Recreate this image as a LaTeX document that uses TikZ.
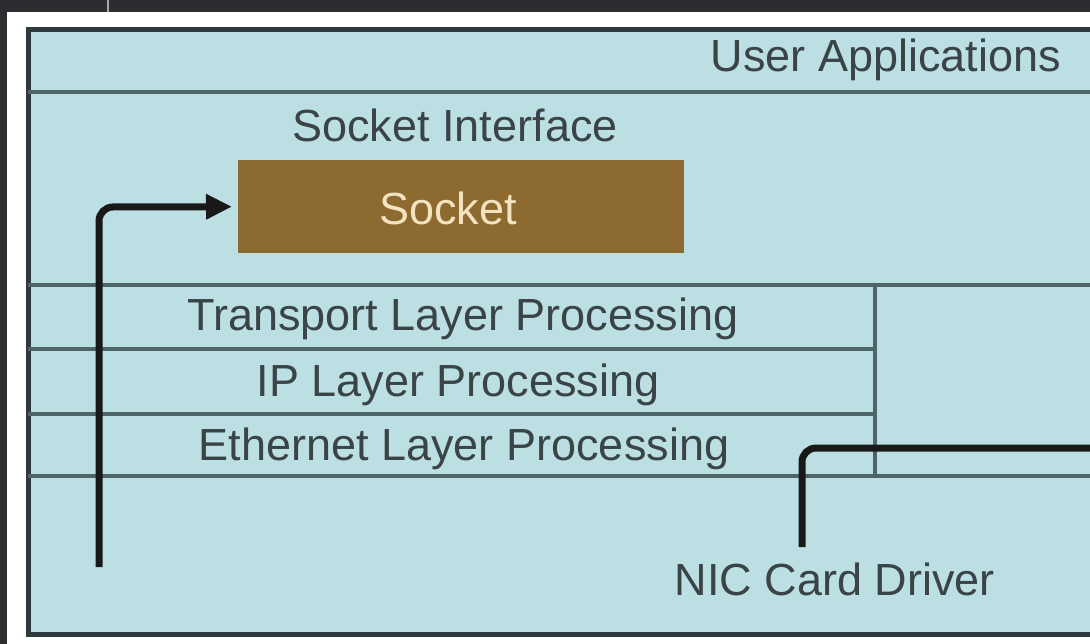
\documentclass[tikz,border=0pt]{standalone}
\usepackage{fontspec}
\setmainfont{Liberation Sans}
\usetikzlibrary{arrows.meta}
\definecolor{panel}{HTML}{BCDFE4}
\definecolor{rule}{HTML}{4E6468}
\definecolor{frame}{HTML}{2F3A3C}
\definecolor{txt}{HTML}{3A4447}
\definecolor{sockfill}{HTML}{8D6A2F}
\definecolor{socktxt}{HTML}{F3E3C0}
\definecolor{topbar}{HTML}{2D2D31}
\tikzset{
  lbl/.style={anchor=base, text=txt, font=\fontsize{45}{54}\selectfont, inner sep=0pt},
  layerline/.style={draw=rule, line width=3.5pt},
  flow/.style={draw=black!90, line width=7pt, rounded corners=14pt},
}
\begin{document}
\begin{tikzpicture}[x=1pt,y=-1pt]
\useasboundingbox (0,0) rectangle (1090,644);
\clip (0,0) rectangle (1090,644);
% backdrop
\fill[white] (0,0) rectangle (1090,644);
\fill[topbar] (0,0) rectangle (1090,12);
\fill[topbar] (0,0) rectangle (7,644);
\draw[gray!70, line width=1.5pt] (108,0) -- (108,12);
% panel
\draw[fill=panel, draw=frame, line width=5pt] (28,30) rectangle (1100,634);
% rows
\draw[layerline] (28,92) -- (1100,92);
\draw[layerline] (28,285) -- (1100,285);
\draw[layerline] (28,349) -- (875,349);
\draw[layerline] (28,414) -- (875,414);
\draw[layerline] (28,476) -- (1100,476);
\draw[layerline] (875,285) -- (875,476);
% socket box
\node[fill=sockfill, minimum width=446pt, minimum height=93pt, inner sep=0pt, anchor=north west] (sock) at (238,160) {};
% texts
\node[lbl] (ua) at (886,72) {User Applications};
\node[lbl] (si) at (455,142) {Socket Interface};
\node[lbl, text=socktxt] (st) at (448,225) {Socket};
\node[lbl] (tl) at (463,331) {Transport Layer Processing};
\node[lbl] (ip) at (458,396) {IP Layer Processing};
\node[lbl] (el) at (464,460) {Ethernet Layer Processing};
\node[lbl] (nic) at (835,595) {NIC Card Driver};
% connectors
\coordinate (a0) at (99,567);
\coordinate (a1) at (99,207);
\draw[flow, -{Triangle[length=26pt,width=24pt]}] (a0) -- (a1) -- ([xshift=-6pt]sock.west);
\coordinate (b0) at (1100,448);
\coordinate (b1) at (802,448);
\coordinate (b2) at (802,547);
\draw[flow] (b0) -- (b1) -- (b2);
\end{tikzpicture}
\end{document}
